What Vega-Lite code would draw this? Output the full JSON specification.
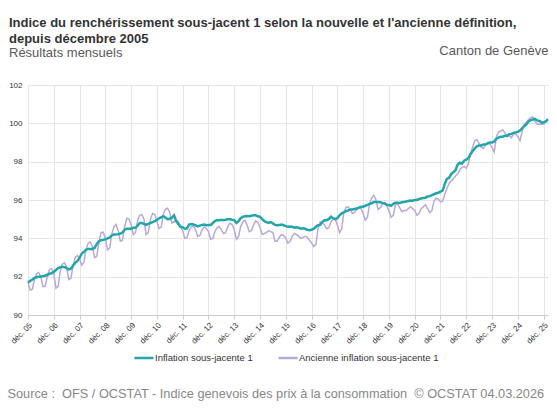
{
  "$schema": "https://vega.github.io/schema/vega-lite/v6.json",
  "width": 520,
  "height": 230,
  "autosize": {"type": "none"},
  "padding": {"left": 28, "top": 85, "right": 9, "bottom": 99},
  "background": "white",
  "config": {"view": {"stroke": null}, "font": "Liberation Sans"},
  "title": {
    "text": ["Indice du renchérissement sous-jacent 1 selon la nouvelle et l'ancienne définition,", "depuis décembre 2005"],
    "subtitle": "Résultats mensuels",
    "anchor": "start",
    "frame": "group",
    "dx": -19,
    "fontSize": 13,
    "fontWeight": "bold",
    "color": "#333333",
    "lineHeight": 16,
    "subtitleFontSize": 13,
    "subtitleColor": "#595959",
    "subtitlePadding": 1,
    "offset": -16
  },
  "data": {
    "values": [
      {"m": "2005-12-01", "n": 91.70, "a": 91.72},
      {"m": "2006-01-01", "n": 91.78, "a": 91.30},
      {"m": "2006-02-01", "n": 91.85, "a": 91.35},
      {"m": "2006-03-01", "n": 91.92, "a": 91.85},
      {"m": "2006-04-01", "n": 91.97, "a": 92.15},
      {"m": "2006-05-01", "n": 92.00, "a": 92.22},
      {"m": "2006-06-01", "n": 92.00, "a": 92.00},
      {"m": "2006-07-01", "n": 92.03, "a": 91.48},
      {"m": "2006-08-01", "n": 92.05, "a": 91.50},
      {"m": "2006-09-01", "n": 92.10, "a": 92.00},
      {"m": "2006-10-01", "n": 92.15, "a": 92.38},
      {"m": "2006-11-01", "n": 92.18, "a": 92.42},
      {"m": "2006-12-01", "n": 92.25, "a": 92.20},
      {"m": "2007-01-01", "n": 92.35, "a": 91.40},
      {"m": "2007-02-01", "n": 92.45, "a": 91.50},
      {"m": "2007-03-01", "n": 92.50, "a": 92.25},
      {"m": "2007-04-01", "n": 92.52, "a": 92.65},
      {"m": "2007-05-01", "n": 92.50, "a": 92.72},
      {"m": "2007-06-01", "n": 92.45, "a": 92.50},
      {"m": "2007-07-01", "n": 92.38, "a": 91.85},
      {"m": "2007-08-01", "n": 92.42, "a": 91.92},
      {"m": "2007-09-01", "n": 92.58, "a": 92.55},
      {"m": "2007-10-01", "n": 92.72, "a": 93.00},
      {"m": "2007-11-01", "n": 92.82, "a": 93.10},
      {"m": "2007-12-01", "n": 92.98, "a": 92.95},
      {"m": "2008-01-01", "n": 93.20, "a": 92.60},
      {"m": "2008-02-01", "n": 93.30, "a": 92.75},
      {"m": "2008-03-01", "n": 93.40, "a": 93.40},
      {"m": "2008-04-01", "n": 93.45, "a": 93.75},
      {"m": "2008-05-01", "n": 93.45, "a": 93.82},
      {"m": "2008-06-01", "n": 93.45, "a": 93.55},
      {"m": "2008-07-01", "n": 93.50, "a": 93.00},
      {"m": "2008-08-01", "n": 93.70, "a": 93.05},
      {"m": "2008-09-01", "n": 93.85, "a": 93.80},
      {"m": "2008-10-01", "n": 93.90, "a": 94.30},
      {"m": "2008-11-01", "n": 93.92, "a": 94.32},
      {"m": "2008-12-01", "n": 93.95, "a": 94.00},
      {"m": "2009-01-01", "n": 94.00, "a": 93.40},
      {"m": "2009-02-01", "n": 94.05, "a": 93.50},
      {"m": "2009-03-01", "n": 94.15, "a": 94.20},
      {"m": "2009-04-01", "n": 94.20, "a": 94.60},
      {"m": "2009-05-01", "n": 94.20, "a": 94.72},
      {"m": "2009-06-01", "n": 94.22, "a": 94.40},
      {"m": "2009-07-01", "n": 94.25, "a": 93.85},
      {"m": "2009-08-01", "n": 94.30, "a": 93.90},
      {"m": "2009-09-01", "n": 94.45, "a": 94.60},
      {"m": "2009-10-01", "n": 94.50, "a": 95.05},
      {"m": "2009-11-01", "n": 94.50, "a": 95.00},
      {"m": "2009-12-01", "n": 94.50, "a": 94.70},
      {"m": "2010-01-01", "n": 94.55, "a": 94.20},
      {"m": "2010-02-01", "n": 94.56, "a": 94.30},
      {"m": "2010-03-01", "n": 94.65, "a": 94.90},
      {"m": "2010-04-01", "n": 94.80, "a": 95.20},
      {"m": "2010-05-01", "n": 94.80, "a": 95.25},
      {"m": "2010-06-01", "n": 94.75, "a": 95.00},
      {"m": "2010-07-01", "n": 94.70, "a": 94.20},
      {"m": "2010-08-01", "n": 94.75, "a": 94.30},
      {"m": "2010-09-01", "n": 94.80, "a": 95.00},
      {"m": "2010-10-01", "n": 94.85, "a": 95.30},
      {"m": "2010-11-01", "n": 94.90, "a": 95.25},
      {"m": "2010-12-01", "n": 94.96, "a": 94.90},
      {"m": "2011-01-01", "n": 95.05, "a": 94.50},
      {"m": "2011-02-01", "n": 95.10, "a": 94.60},
      {"m": "2011-03-01", "n": 95.15, "a": 95.25},
      {"m": "2011-04-01", "n": 95.08, "a": 95.52},
      {"m": "2011-05-01", "n": 95.00, "a": 95.57},
      {"m": "2011-06-01", "n": 95.02, "a": 95.35},
      {"m": "2011-07-01", "n": 95.08, "a": 94.80},
      {"m": "2011-08-01", "n": 95.20, "a": 94.85},
      {"m": "2011-09-01", "n": 94.90, "a": 94.95},
      {"m": "2011-10-01", "n": 94.75, "a": 94.85},
      {"m": "2011-11-01", "n": 94.60, "a": 94.60},
      {"m": "2011-12-01", "n": 94.58, "a": 94.40},
      {"m": "2012-01-01", "n": 94.50, "a": 94.00},
      {"m": "2012-02-01", "n": 94.52, "a": 94.05},
      {"m": "2012-03-01", "n": 94.72, "a": 94.40},
      {"m": "2012-04-01", "n": 94.75, "a": 94.60},
      {"m": "2012-05-01", "n": 94.72, "a": 94.65},
      {"m": "2012-06-01", "n": 94.68, "a": 94.45},
      {"m": "2012-07-01", "n": 94.62, "a": 94.10},
      {"m": "2012-08-01", "n": 94.66, "a": 94.15},
      {"m": "2012-09-01", "n": 94.70, "a": 94.45},
      {"m": "2012-10-01", "n": 94.72, "a": 94.60},
      {"m": "2012-11-01", "n": 94.68, "a": 94.50},
      {"m": "2012-12-01", "n": 94.70, "a": 94.35},
      {"m": "2013-01-01", "n": 94.70, "a": 93.95},
      {"m": "2013-02-01", "n": 94.80, "a": 94.00},
      {"m": "2013-03-01", "n": 94.90, "a": 94.35},
      {"m": "2013-04-01", "n": 94.95, "a": 94.55},
      {"m": "2013-05-01", "n": 94.95, "a": 94.62},
      {"m": "2013-06-01", "n": 94.97, "a": 94.45},
      {"m": "2013-07-01", "n": 94.95, "a": 94.25},
      {"m": "2013-08-01", "n": 94.97, "a": 94.30},
      {"m": "2013-09-01", "n": 95.00, "a": 94.60},
      {"m": "2013-10-01", "n": 95.00, "a": 94.80},
      {"m": "2013-11-01", "n": 94.97, "a": 94.72},
      {"m": "2013-12-01", "n": 94.95, "a": 94.45},
      {"m": "2014-01-01", "n": 94.80, "a": 93.95},
      {"m": "2014-02-01", "n": 94.90, "a": 94.10},
      {"m": "2014-03-01", "n": 95.05, "a": 94.60},
      {"m": "2014-04-01", "n": 95.12, "a": 94.85},
      {"m": "2014-05-01", "n": 95.15, "a": 94.95},
      {"m": "2014-06-01", "n": 95.17, "a": 94.70},
      {"m": "2014-07-01", "n": 95.15, "a": 94.35},
      {"m": "2014-08-01", "n": 95.18, "a": 94.40},
      {"m": "2014-09-01", "n": 95.20, "a": 94.70},
      {"m": "2014-10-01", "n": 95.20, "a": 94.90},
      {"m": "2014-11-01", "n": 95.15, "a": 94.85},
      {"m": "2014-12-01", "n": 95.12, "a": 94.55},
      {"m": "2015-01-01", "n": 95.00, "a": 94.20},
      {"m": "2015-02-01", "n": 94.90, "a": 94.25},
      {"m": "2015-03-01", "n": 94.85, "a": 94.30},
      {"m": "2015-04-01", "n": 94.80, "a": 94.40},
      {"m": "2015-05-01", "n": 94.85, "a": 94.35},
      {"m": "2015-06-01", "n": 94.78, "a": 94.30},
      {"m": "2015-07-01", "n": 94.70, "a": 93.85},
      {"m": "2015-08-01", "n": 94.68, "a": 93.85},
      {"m": "2015-09-01", "n": 94.70, "a": 94.05},
      {"m": "2015-10-01", "n": 94.72, "a": 94.20},
      {"m": "2015-11-01", "n": 94.68, "a": 94.15},
      {"m": "2015-12-01", "n": 94.64, "a": 94.00},
      {"m": "2016-01-01", "n": 94.60, "a": 93.75},
      {"m": "2016-02-01", "n": 94.62, "a": 93.85},
      {"m": "2016-03-01", "n": 94.60, "a": 94.10},
      {"m": "2016-04-01", "n": 94.56, "a": 94.25},
      {"m": "2016-05-01", "n": 94.58, "a": 94.20},
      {"m": "2016-06-01", "n": 94.55, "a": 94.10},
      {"m": "2016-07-01", "n": 94.50, "a": 94.00},
      {"m": "2016-08-01", "n": 94.52, "a": 94.05},
      {"m": "2016-09-01", "n": 94.50, "a": 94.10},
      {"m": "2016-10-01", "n": 94.45, "a": 94.05},
      {"m": "2016-11-01", "n": 94.42, "a": 93.90},
      {"m": "2016-12-01", "n": 94.45, "a": 93.75},
      {"m": "2017-01-01", "n": 94.50, "a": 93.57},
      {"m": "2017-02-01", "n": 94.60, "a": 93.70},
      {"m": "2017-03-01", "n": 94.68, "a": 94.50},
      {"m": "2017-04-01", "n": 94.70, "a": 94.85},
      {"m": "2017-05-01", "n": 94.85, "a": 94.80},
      {"m": "2017-06-01", "n": 94.95, "a": 94.70},
      {"m": "2017-07-01", "n": 94.95, "a": 94.50},
      {"m": "2017-08-01", "n": 95.00, "a": 94.55},
      {"m": "2017-09-01", "n": 95.13, "a": 94.85},
      {"m": "2017-10-01", "n": 95.05, "a": 95.00},
      {"m": "2017-11-01", "n": 95.00, "a": 95.00},
      {"m": "2017-12-01", "n": 95.05, "a": 94.70},
      {"m": "2018-01-01", "n": 95.20, "a": 94.30},
      {"m": "2018-02-01", "n": 95.30, "a": 94.50},
      {"m": "2018-03-01", "n": 95.35, "a": 95.30},
      {"m": "2018-04-01", "n": 95.42, "a": 95.60},
      {"m": "2018-05-01", "n": 95.45, "a": 95.65},
      {"m": "2018-06-01", "n": 95.50, "a": 95.50},
      {"m": "2018-07-01", "n": 95.50, "a": 95.30},
      {"m": "2018-08-01", "n": 95.53, "a": 95.35},
      {"m": "2018-09-01", "n": 95.56, "a": 95.50},
      {"m": "2018-10-01", "n": 95.60, "a": 95.60},
      {"m": "2018-11-01", "n": 95.65, "a": 95.55},
      {"m": "2018-12-01", "n": 95.65, "a": 95.30},
      {"m": "2019-01-01", "n": 95.70, "a": 94.95},
      {"m": "2019-02-01", "n": 95.74, "a": 95.10},
      {"m": "2019-03-01", "n": 95.80, "a": 95.80},
      {"m": "2019-04-01", "n": 95.83, "a": 96.10},
      {"m": "2019-05-01", "n": 95.90, "a": 96.25},
      {"m": "2019-06-01", "n": 95.90, "a": 96.00},
      {"m": "2019-07-01", "n": 95.90, "a": 95.50},
      {"m": "2019-08-01", "n": 95.88, "a": 95.60},
      {"m": "2019-09-01", "n": 95.85, "a": 95.80},
      {"m": "2019-10-01", "n": 95.82, "a": 95.85},
      {"m": "2019-11-01", "n": 95.75, "a": 95.70},
      {"m": "2019-12-01", "n": 95.74, "a": 95.45},
      {"m": "2020-01-01", "n": 95.70, "a": 95.10},
      {"m": "2020-02-01", "n": 95.80, "a": 95.20},
      {"m": "2020-03-01", "n": 95.86, "a": 95.75},
      {"m": "2020-04-01", "n": 95.86, "a": 95.80},
      {"m": "2020-05-01", "n": 95.85, "a": 95.60},
      {"m": "2020-06-01", "n": 95.88, "a": 95.40},
      {"m": "2020-07-01", "n": 95.90, "a": 95.45},
      {"m": "2020-08-01", "n": 95.92, "a": 95.45},
      {"m": "2020-09-01", "n": 95.95, "a": 95.55},
      {"m": "2020-10-01", "n": 95.97, "a": 95.65},
      {"m": "2020-11-01", "n": 95.96, "a": 95.55},
      {"m": "2020-12-01", "n": 96.00, "a": 95.45},
      {"m": "2021-01-01", "n": 96.00, "a": 95.20},
      {"m": "2021-02-01", "n": 96.05, "a": 95.30},
      {"m": "2021-03-01", "n": 96.08, "a": 95.55},
      {"m": "2021-04-01", "n": 96.10, "a": 95.65},
      {"m": "2021-05-01", "n": 96.12, "a": 95.75},
      {"m": "2021-06-01", "n": 96.18, "a": 95.55},
      {"m": "2021-07-01", "n": 96.20, "a": 95.35},
      {"m": "2021-08-01", "n": 96.25, "a": 95.45},
      {"m": "2021-09-01", "n": 96.30, "a": 95.95},
      {"m": "2021-10-01", "n": 96.35, "a": 96.10},
      {"m": "2021-11-01", "n": 96.38, "a": 96.05},
      {"m": "2021-12-01", "n": 96.44, "a": 95.90},
      {"m": "2022-01-01", "n": 96.50, "a": 95.95},
      {"m": "2022-02-01", "n": 96.85, "a": 96.30},
      {"m": "2022-03-01", "n": 97.10, "a": 96.60},
      {"m": "2022-04-01", "n": 97.15, "a": 96.85},
      {"m": "2022-05-01", "n": 97.35, "a": 97.00},
      {"m": "2022-06-01", "n": 97.45, "a": 97.10},
      {"m": "2022-07-01", "n": 97.55, "a": 97.25},
      {"m": "2022-08-01", "n": 97.85, "a": 97.35},
      {"m": "2022-09-01", "n": 97.95, "a": 97.60},
      {"m": "2022-10-01", "n": 97.90, "a": 97.70},
      {"m": "2022-11-01", "n": 98.05, "a": 97.75},
      {"m": "2022-12-01", "n": 98.10, "a": 97.65},
      {"m": "2023-01-01", "n": 98.20, "a": 97.90},
      {"m": "2023-02-01", "n": 98.40, "a": 98.45},
      {"m": "2023-03-01", "n": 98.55, "a": 98.75},
      {"m": "2023-04-01", "n": 98.70, "a": 99.10},
      {"m": "2023-05-01", "n": 98.80, "a": 99.15},
      {"m": "2023-06-01", "n": 98.85, "a": 98.95},
      {"m": "2023-07-01", "n": 98.85, "a": 98.75},
      {"m": "2023-08-01", "n": 98.90, "a": 98.70},
      {"m": "2023-09-01", "n": 98.90, "a": 98.90},
      {"m": "2023-10-01", "n": 98.95, "a": 99.00},
      {"m": "2023-11-01", "n": 99.00, "a": 98.90},
      {"m": "2023-12-01", "n": 99.00, "a": 98.75},
      {"m": "2024-01-01", "n": 99.05, "a": 98.50},
      {"m": "2024-02-01", "n": 99.20, "a": 99.30},
      {"m": "2024-03-01", "n": 99.25, "a": 99.55},
      {"m": "2024-04-01", "n": 99.30, "a": 99.60},
      {"m": "2024-05-01", "n": 99.30, "a": 99.65},
      {"m": "2024-06-01", "n": 99.35, "a": 99.50},
      {"m": "2024-07-01", "n": 99.35, "a": 99.30},
      {"m": "2024-08-01", "n": 99.43, "a": 99.35},
      {"m": "2024-09-01", "n": 99.45, "a": 99.25},
      {"m": "2024-10-01", "n": 99.50, "a": 99.45},
      {"m": "2024-11-01", "n": 99.53, "a": 99.45},
      {"m": "2024-12-01", "n": 99.56, "a": 99.30},
      {"m": "2025-01-01", "n": 99.62, "a": 99.10},
      {"m": "2025-02-01", "n": 99.75, "a": 99.60},
      {"m": "2025-03-01", "n": 99.85, "a": 99.95},
      {"m": "2025-04-01", "n": 99.95, "a": 100.05},
      {"m": "2025-05-01", "n": 100.10, "a": 100.20},
      {"m": "2025-06-01", "n": 100.17, "a": 100.30},
      {"m": "2025-07-01", "n": 100.20, "a": 100.35},
      {"m": "2025-08-01", "n": 100.23, "a": 100.10},
      {"m": "2025-09-01", "n": 100.15, "a": 99.95},
      {"m": "2025-10-01", "n": 100.12, "a": 99.95},
      {"m": "2025-11-01", "n": 100.05, "a": 99.95},
      {"m": "2025-12-01", "n": 100.05, "a": 99.95},
      {"m": "2026-01-01", "n": 100.10, "a": 100.10},
      {"m": "2026-02-01", "n": 100.22, "a": 100.20}
    ]
  },
  "transform": [{"fold": ["n", "a"], "as": ["k", "v"]}],
  "encoding": {
    "x": {
      "field": "m",
      "type": "temporal",
      "scale": {
        "type": "utc",
        "domain": [
          {"year": 2005, "month": 12, "date": 1, "utc": true},
          {"year": 2026, "month": 2, "date": 1, "utc": true}
        ]
      },
      "axis": {
        "values": [
          {"year": 2005, "month": 12, "date": 1, "utc": true},
          {"year": 2006, "month": 12, "date": 1, "utc": true},
          {"year": 2007, "month": 12, "date": 1, "utc": true},
          {"year": 2008, "month": 12, "date": 1, "utc": true},
          {"year": 2009, "month": 12, "date": 1, "utc": true},
          {"year": 2010, "month": 12, "date": 1, "utc": true},
          {"year": 2011, "month": 12, "date": 1, "utc": true},
          {"year": 2012, "month": 12, "date": 1, "utc": true},
          {"year": 2013, "month": 12, "date": 1, "utc": true},
          {"year": 2014, "month": 12, "date": 1, "utc": true},
          {"year": 2015, "month": 12, "date": 1, "utc": true},
          {"year": 2016, "month": 12, "date": 1, "utc": true},
          {"year": 2017, "month": 12, "date": 1, "utc": true},
          {"year": 2018, "month": 12, "date": 1, "utc": true},
          {"year": 2019, "month": 12, "date": 1, "utc": true},
          {"year": 2020, "month": 12, "date": 1, "utc": true},
          {"year": 2021, "month": 12, "date": 1, "utc": true},
          {"year": 2022, "month": 12, "date": 1, "utc": true},
          {"year": 2023, "month": 12, "date": 1, "utc": true},
          {"year": 2024, "month": 12, "date": 1, "utc": true},
          {"year": 2025, "month": 12, "date": 1, "utc": true}
        ],
        "labelExpr": "'déc. ' + utcFormat(datum.value, '%y')",
        "labelAngle": -45,
        "labelFontSize": 8,
        "labelColor": "#333333",
        "labelPadding": 2,
        "grid": true,
        "gridColor": "#e6e6e6",
        "domainColor": "#cccccc",
        "tickColor": "#cccccc",
        "tickSize": 4,
        "title": "Source :\u00a0 OFS / OCSTAT - Indice genevois des prix à la consommation\u00a0 © OCSTAT 04.03.2026",
        "titleX": -21,
        "titleY": 82,
        "titleAlign": "left",
        "titleBaseline": "alphabetic",
        "titleFontSize": 12.75,
        "titleFontWeight": "normal",
        "titleColor": "#888888"
      }
    },
    "y": {
      "field": "v",
      "type": "quantitative",
      "scale": {"domain": [90, 102]},
      "axis": {
        "values": [90, 92, 94, 96, 98, 100, 102],
        "grid": true,
        "gridColor": "#e6e6e6",
        "domain": false,
        "ticks": false,
        "labelFontSize": 8,
        "labelColor": "#333333",
        "labelPadding": 6,
        "title": "Canton de Genève",
        "titleAngle": 0,
        "titleX": 520,
        "titleY": -31,
        "titleAlign": "right",
        "titleBaseline": "alphabetic",
        "titleFontSize": 13,
        "titleFontWeight": "normal",
        "titleColor": "#595959"
      }
    },
    "color": {
      "field": "k",
      "type": "nominal",
      "scale": {"domain": ["n", "a"], "range": ["#22a6ab", "#b9a9db"]},
      "legend": {
        "orient": "none",
        "legendX": 105,
        "legendY": 262,
        "direction": "horizontal",
        "title": null,
        "labelExpr": "datum.value == 'n' ? 'Inflation sous-jacente 1' : 'Ancienne inflation sous-jacente 1'",
        "labelFontSize": 9.5,
        "labelColor": "#333333",
        "labelOffset": 0,
        "symbolType": "stroke",
        "symbolSize": 361,
        "symbolStrokeWidth": 2.5,
        "columnPadding": 20
      }
    }
  },
  "layer": [
    {
      "transform": [{"filter": "datum.k == 'a'"}],
      "mark": {"type": "line", "strokeWidth": 1.5}
    },
    {
      "transform": [{"filter": "datum.k == 'n'"}],
      "mark": {"type": "line", "strokeWidth": 2.5}
    }
  ]
}
